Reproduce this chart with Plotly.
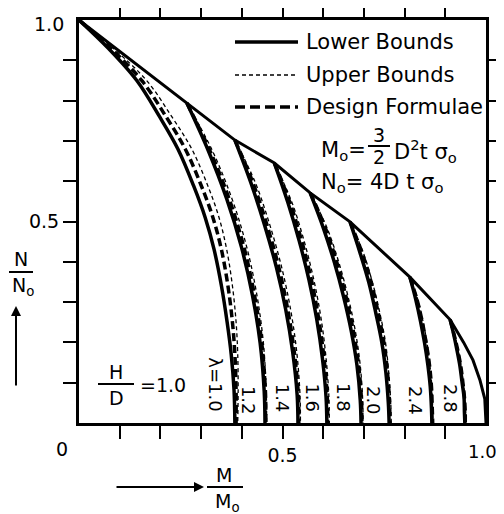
import plotly.graph_objects as go

# ---------------- data ----------------
lambdas = ["1.0", "1.2", "1.4", "1.6", "1.8", "2.0", "2.4", "2.8"]

N_vals = {
    "1.0": [1.0, 0.93, 0.85, 0.76, 0.68, 0.59, 0.51, 0.43, 0.34, 0.25, 0.17, 0.08, 0.0],
    "1.2": [0.794, 0.675, 0.556, 0.437, 0.318, 0.199, 0.079, 0.0],
    "1.4": [0.702, 0.597, 0.491, 0.386, 0.281, 0.176, 0.070, 0.0],
    "1.6": [0.645, 0.548, 0.452, 0.355, 0.258, 0.161, 0.065, 0.0],
    "1.8": [0.571, 0.485, 0.400, 0.314, 0.228, 0.143, 0.057, 0.0],
    "2.0": [0.499, 0.424, 0.349, 0.274, 0.200, 0.125, 0.050, 0.0],
    "2.4": [0.362, 0.308, 0.253, 0.199, 0.145, 0.090, 0.036, 0.0],
    "2.8": [0.256, 0.218, 0.179, 0.141, 0.102, 0.064, 0.026, 0.0],
}
M_lower = {
    "1.0": [0, 0.072, 0.142, 0.198, 0.243, 0.281, 0.31, 0.332, 0.35, 0.364, 0.374, 0.381, 0.383],
    "1.2": [0.265, 0.318, 0.363, 0.399, 0.426, 0.445, 0.455, 0.457],
    "1.4": [0.383, 0.422, 0.456, 0.485, 0.508, 0.525, 0.536, 0.538],
    "1.6": [0.480, 0.513, 0.541, 0.565, 0.584, 0.598, 0.607, 0.609],
    "1.8": [0.568, 0.600, 0.627, 0.650, 0.669, 0.683, 0.691, 0.693],
    "2.0": [0.666, 0.690, 0.712, 0.729, 0.744, 0.754, 0.760, 0.762],
    "2.4": [0.813, 0.827, 0.839, 0.849, 0.857, 0.863, 0.866, 0.867],
    "2.8": [0.912, 0.921, 0.929, 0.936, 0.941, 0.946, 0.947, 0.948],
}
M_design = {
    "1.0": [0, 0.078, 0.154, 0.214, 0.261, 0.300, 0.329, 0.350, 0.366, 0.377, 0.383, 0.386, 0.386],
    "1.2": [0.265, 0.322, 0.369, 0.405, 0.431, 0.449, 0.458, 0.459],
    "1.4": [0.383, 0.427, 0.462, 0.491, 0.513, 0.529, 0.539, 0.540],
    "1.6": [0.480, 0.518, 0.547, 0.571, 0.589, 0.602, 0.610, 0.611],
    "1.8": [0.568, 0.605, 0.633, 0.656, 0.674, 0.687, 0.694, 0.695],
    "2.0": [0.666, 0.695, 0.718, 0.735, 0.749, 0.758, 0.763, 0.764],
    "2.4": [0.813, 0.830, 0.843, 0.853, 0.861, 0.866, 0.868, 0.869],
    "2.8": [0.912, 0.922, 0.931, 0.938, 0.943, 0.947, 0.949, 0.949],
}
M_upper = {
    "1.0": [0, 0.084, 0.166, 0.228, 0.277, 0.316, 0.344, 0.363, 0.377, 0.386, 0.390, 0.391, 0.390],
    "1.2": [0.265, 0.328, 0.376, 0.412, 0.437, 0.453, 0.460, 0.461],
    "1.4": [0.383, 0.433, 0.469, 0.498, 0.520, 0.535, 0.543, 0.544],
    "1.6": [0.480, 0.523, 0.553, 0.577, 0.595, 0.607, 0.614, 0.615],
    "1.8": [0.568, 0.609, 0.638, 0.661, 0.679, 0.691, 0.697, 0.698],
    "2.0": [0.666, 0.698, 0.721, 0.739, 0.753, 0.761, 0.766, 0.767],
    "2.4": [0.813, 0.832, 0.845, 0.855, 0.862, 0.867, 0.869, 0.870],
    "2.8": [0.912, 0.923, 0.932, 0.939, 0.944, 0.948, 0.950, 0.950],
}

# outer envelope
env_M = [0, 0.265, 0.383, 0.480, 0.568, 0.666, 0.813, 0.912, 0.945, 0.968, 0.985, 0.997, 1.0]
env_N = [1.0, 0.794, 0.702, 0.645, 0.571, 0.499, 0.362, 0.256, 0.200, 0.156, 0.107, 0.060, 0.0]

# lambda labels: text and centre positions (M, N)
lab_text = ["λ=1.0", "1.2", "1.4", "1.6", "1.8", "2.0", "2.4", "2.8"]
lab_M = [0.335, 0.418, 0.502, 0.574, 0.651, 0.725, 0.828, 0.914]
lab_N = [0.095, 0.057, 0.062, 0.062, 0.062, 0.057, 0.057, 0.062]

tickvals = [0.1, 0.2, 0.3, 0.4, 0.5, 0.6, 0.7, 0.8, 0.9]
ticktext = ["", "", "", "", "0.5", "", "", "", ""]

# ---------------- figure ----------------
FONT = "DejaVu Sans"
BODY = 8                       # default page margin of the html body
W, H = 504 - BODY, 514 - BODY
L, R, T, B = 79, 486, 20, 423  # plot area in page pixels


def px(x):
    return (x - L) / (R - L)


def py(y):
    return (B - y) / (B - T)


fig = go.Figure()

for lam in lambdas:
    fig.add_trace(go.Scatter(x=M_upper[lam], y=N_vals[lam], mode="lines",
                             line=dict(color="black", width=1.3, dash="4px,3px", shape="spline"),
                             name="Upper Bounds", showlegend=False, hoverinfo="skip"))
    fig.add_trace(go.Scatter(x=M_design[lam], y=N_vals[lam], mode="lines",
                             line=dict(color="black", width=3.5, dash="8px,4px", shape="spline"),
                             name="Design Formulae", showlegend=False, hoverinfo="skip"))
    fig.add_trace(go.Scatter(x=M_lower[lam], y=N_vals[lam], mode="lines",
                             line=dict(color="black", width=3.5, shape="spline"),
                             name="Lower Bounds", showlegend=False, hoverinfo="skip"))

fig.add_trace(go.Scatter(x=env_M, y=env_N, mode="lines",
                         line=dict(color="black", width=3),
                         name="Lower Bounds", showlegend=False, hoverinfo="skip"))

annos = []
shapes = []


def txt(x, y, text, size=19, xanchor="center", yanchor="middle"):
    annos.append(dict(x=px(x), y=py(y), xref="paper", yref="paper", text=text,
                      showarrow=False, xanchor=xanchor, yanchor=yanchor,
                      font=dict(family=FONT, size=size, color="black")))


for t, xm, yn in zip(lab_text, lab_M, lab_N):
    annos.append(dict(x=xm, y=yn, xref="x", yref="y", text=t, showarrow=False,
                      xanchor="center", yanchor="middle",
                      textangle=90, font=dict(family=FONT, size=18, color="black")))

# legend (drawn manually)
leg = [("Lower Bounds", 42, dict(width=3.5)),
       ("Upper Bounds", 75, dict(width=1.3, dash="4px,3px")),
       ("Design Formulae", 107, dict(width=3.5, dash="10px,5px"))]
for t, yy, ln in leg:
    shapes.append(dict(type="line", xref="paper", yref="paper",
                       x0=px(235), x1=px(298), y0=py(yy), y1=py(yy),
                       line=dict(color="black", **ln)))
    txt(304, yy, t, size=21, xanchor="left")

# Mo formula
txt(319, 151, "M<sub>o</sub>=", size=21, xanchor="left")
txt(379, 135, "3", size=19)
txt(379, 157, "2", size=19)
shapes.append(dict(type="line", xref="paper", yref="paper", x0=px(368), x1=px(390),
                   y0=py(146), y1=py(146), line=dict(color="black", width=2)))
txt(392, 151, "D<sup>2</sup>t σ<sub>o</sub>", size=21, xanchor="left")
txt(319, 183, "N<sub>o</sub>= 4D t σ<sub>o</sub>", size=21, xanchor="left")

# H/D = 1.0
txt(116, 372, "H")
txt(116, 398, "D")
shapes.append(dict(type="line", xref="paper", yref="paper", x0=px(98), x1=px(134),
                   y0=py(384), y1=py(384), line=dict(color="black", width=2)))
txt(138, 385, "=1.0", xanchor="left")

# y-axis label N/No with arrow
txt(21, 259, "N")
txt(23, 287, "N<sub>o</sub>")
shapes.append(dict(type="line", xref="paper", yref="paper", x0=px(9), x1=px(33),
                   y0=py(272), y1=py(272), line=dict(color="black", width=2)))
annos.append(dict(x=px(16), y=py(306), xref="paper", yref="paper", ax=0, ay=81,
                  text="", showarrow=True, arrowhead=2, arrowsize=1, arrowwidth=2,
                  arrowcolor="black"))

# x-axis label M/Mo with arrow
txt(224, 475, "M")
txt(227, 502, "M<sub>o</sub>")
shapes.append(dict(type="line", xref="paper", yref="paper", x0=px(207), x1=px(243),
                   y0=py(487), y1=py(487), line=dict(color="black", width=2)))
annos.append(dict(x=px(204), y=py(487), xref="paper", yref="paper", ax=-89, ay=0,
                  text="", showarrow=True, arrowhead=2, arrowsize=1, arrowwidth=2,
                  arrowcolor="black"))

# corner tick labels
txt(62, 449, "0")
txt(49, 24, "1.0")
txt(482, 451, "1.0", size=18)

axis_common = dict(showgrid=False, zeroline=False, showline=True, linecolor="black",
                   linewidth=3, mirror="ticks", ticks="outside", ticklen=13, tickwidth=2,
                   tickcolor="black", tickfont=dict(family=FONT, size=19, color="black"),
                   fixedrange=True, automargin=False, range=[0, 1],
                   tickvals=tickvals, ticktext=ticktext)

fig.update_layout(
    width=W, height=H, autosize=False,
    margin=dict(l=L - BODY, r=504 - R, t=T - BODY, b=514 - B),
    paper_bgcolor="white", plot_bgcolor="white",
    showlegend=False,
    xaxis=axis_common, yaxis=axis_common,
    annotations=annos, shapes=shapes,
)

fig.write_html("out.html")
